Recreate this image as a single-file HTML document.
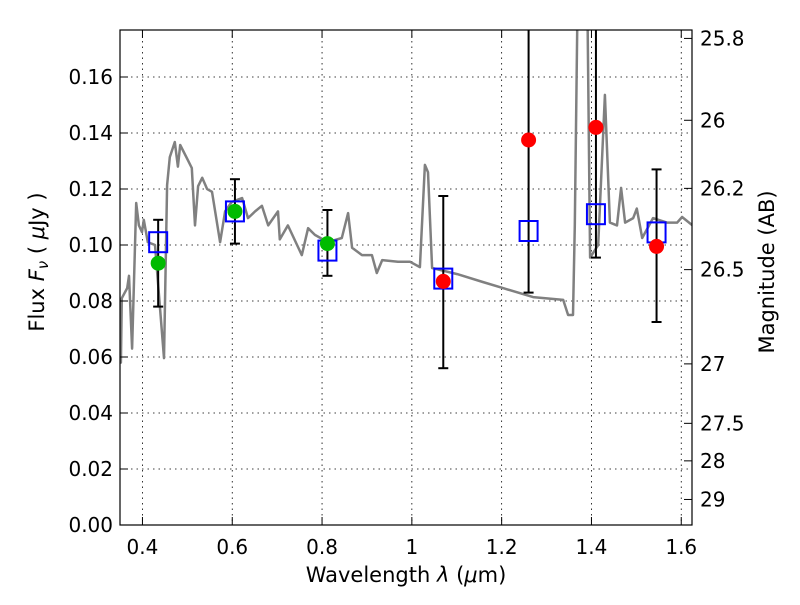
<!DOCTYPE html>
<html><head><meta charset="utf-8"><style>
html,body{margin:0;padding:0;background:#fff}
svg text{font-family:"DejaVu Sans","Liberation Sans",sans-serif;fill:#000}
</style></head><body>
<svg id="chart" width="800" height="600" viewBox="0 0 800 600" xmlns="http://www.w3.org/2000/svg">
<defs><clipPath id="clip"><rect x="120" y="30" width="572" height="495"/></clipPath></defs>
<rect x="0" y="0" width="800" height="600" fill="#fff"/>
<g id="grid"></g>
<g id="spec" clip-path="url(#clip)"></g>
<g id="marks" clip-path="url(#clip)"></g>
<rect x="120" y="30" width="572" height="495" fill="none" stroke="#000" stroke-width="1.2"/>
<g id="axes"></g>
<text x="406" y="582" font-size="21" text-anchor="middle">Wavelength  <tspan font-style="italic">λ</tspan> (<tspan font-style="italic">μ</tspan>m)</text>
<text transform="translate(44,262) rotate(-90)" font-size="21" text-anchor="middle">Flux  <tspan font-style="italic">F</tspan><tspan font-style="italic" font-size="15" dy="4">ν</tspan><tspan dy="-4">  (  </tspan><tspan font-style="italic">μ</tspan>Jy )</text>
<text transform="translate(774,272) rotate(-90)" font-size="21" text-anchor="middle">Magnitude (AB)</text>
</svg>
<script>
const specWave=[0.350,0.352,0.354,0.366,0.370,0.377,0.386,0.392,0.399,0.403,0.412,0.428,0.448,0.455,0.461,0.472,0.479,0.484,0.499,0.510,0.517,0.524,0.533,0.544,0.555,0.573,0.584,0.599,0.622,0.635,0.651,0.666,0.680,0.702,0.706,0.724,0.755,0.769,0.784,0.813,0.844,0.858,0.867,0.889,0.911,0.922,0.934,0.969,0.996,1.018,1.029,1.036,1.045,1.101,1.158,1.203,1.270,1.337,1.348,1.359,1.363,1.370,1.380,1.390,1.397,1.415,1.430,1.441,1.457,1.466,1.475,1.493,1.501,1.513,1.537,1.568,1.591,1.602,1.625];
const specFlux=[0.075,0.058,0.081,0.0846,0.089,0.063,0.115,0.107,0.1046,0.109,0.101,0.100,0.0596,0.1214,0.1314,0.1368,0.128,0.1357,0.131,0.1275,0.107,0.121,0.124,0.120,0.119,0.101,0.112,0.1154,0.1168,0.1096,0.112,0.114,0.107,0.112,0.102,0.107,0.0964,0.106,0.1036,0.101,0.1025,0.1114,0.099,0.0964,0.0964,0.090,0.0946,0.094,0.094,0.0921,0.1286,0.126,0.0918,0.0896,0.0868,0.0846,0.0814,0.0804,0.075,0.075,0.107,0.2,0.22,0.2,0.0955,0.100,0.1536,0.108,0.107,0.1204,0.108,0.1096,0.113,0.1025,0.1096,0.108,0.108,0.110,0.107];
const bandWave=[0.435,0.606,0.812,1.07,1.26,1.41,1.545];
const obsFlux=[0.0935,0.112,0.1005,0.087,0.1375,0.142,0.0995];
const obsIsDetection=[1,1,1,0,0,0,0];
const modelFlux=[0.101,0.112,0.098,0.088,0.105,0.111,0.1045];
const errLow=[0.078,0.1005,0.089,0.056,0.083,0.0955,0.0725];
const errHigh=[0.109,0.1235,0.1125,0.1175,0.19,0.19,0.127];
const xTicks=[0.4,0.6,0.8,1.0,1.2,1.4,1.6];
const xTickLabels=["0.4","0.6","0.8","1","1.2","1.4","1.6"];
const yTicks=[0,0.02,0.04,0.06,0.08,0.10,0.12,0.14,0.16];
const yTickLabels=["0.00","0.02","0.04","0.06","0.08","0.10","0.12","0.14","0.16"];
const magTicks=[25.8,26,26.2,26.5,27,27.5,28,29];
const magTickLabels=["25.8","26","26.2","26.5","27","27.5","28","29"];

const X=v=>120+(v-0.35)*449;
const Y=v=>525-v*2800;
const NS='http://www.w3.org/2000/svg';
function mk(tag,attrs,parent){const e=document.createElementNS(NS,tag);for(const k in attrs)e.setAttribute(k,attrs[k]);parent.appendChild(e);return e;}
const grid=document.getElementById('grid'),axes=document.getElementById('axes'),spec=document.getElementById('spec'),marks=document.getElementById('marks');

xTicks.forEach((t,i)=>{
  const x=X(t);
  const g=mk('line',{x1:x,x2:x,y1:30,y2:525,stroke:'#000','stroke-width':0.8,'stroke-dasharray':'1.5,4'},grid);
  
  
  mk('line',{x1:x,x2:x,y1:525,y2:517,stroke:'#000'},axes);
  mk('line',{x1:x,x2:x,y1:30,y2:38,stroke:'#000'},axes);
  const tx=mk('text',{x:x,y:554,'font-size':20,'text-anchor':'middle'},axes);
  tx.textContent=xTickLabels[i];
  
  
});
yTicks.forEach((t,i)=>{
  const y=Y(t);
  const g=mk('line',{x1:120,x2:692,y1:y,y2:y,stroke:'#000','stroke-width':0.8,'stroke-dasharray':'1.5,4'},grid);
  
  
  mk('line',{x1:120,x2:128,y1:y,y2:y,stroke:'#000'},axes);
  const tx=mk('text',{x:113,y:y+7,'font-size':20,'text-anchor':'end'},axes);
  tx.textContent=yTickLabels[i];
  
  
});
magTicks.forEach((m,i)=>{
  const f=Math.pow(10,(23.9-m)/2.5);
  const y=Y(f);
  mk('line',{x1:692,x2:684,y1:y,y2:y,stroke:'#000'},axes);
  const tx=mk('text',{x:700,y:y+7,'font-size':20,'text-anchor':'start'},axes);
  tx.textContent=magTickLabels[i];
  
  
});

const d=specWave.map((w,i)=>(i?'L':'M')+X(w).toFixed(1)+','+Y(specFlux[i]).toFixed(1)).join('');
const sp=mk('path',{d:d,fill:'none',stroke:'#808080','stroke-width':2.5,'stroke-linejoin':'round'},spec);



bandWave.forEach((w,i)=>{
  const x=X(w);
  const e=mk('g',{stroke:'#000','stroke-width':2},marks);
  
  
  mk('line',{x1:x,x2:x,y1:Y(errLow[i]),y2:Y(errHigh[i])},e);
  mk('line',{x1:x-5,x2:x+5,y1:Y(errLow[i]),y2:Y(errLow[i])},e);
  mk('line',{x1:x-5,x2:x+5,y1:Y(errHigh[i]),y2:Y(errHigh[i])},e);
  const s=mk('rect',{x:x-9,y:Y(modelFlux[i])-10,width:18,height:20,fill:'none',stroke:'#0000ff','stroke-width':2},marks);
  
  
  const c=mk('circle',{cx:x,cy:Y(obsFlux[i]),r:7.5,fill:obsIsDetection[i]?'#00bb00':'#ff0000'},marks);
  
  
});
</script>
</body></html>
